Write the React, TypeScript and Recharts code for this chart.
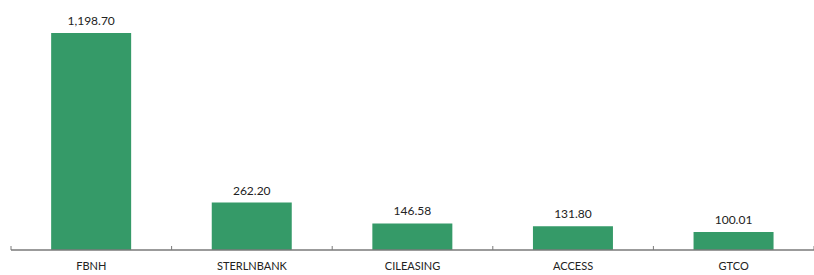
import React from 'react';
import { BarChart, Bar, XAxis, YAxis, LabelList } from 'recharts';

const tickers = ['FBNH', 'STERLNBANK', 'CILEASING', 'ACCESS', 'GTCO'];
const prices = [1198.7, 262.2, 146.58, 131.8, 100.01];

const data = tickers.map((name, i) => ({ name, value: prices[i] }));

const AXIS = '#7a7a7a';
const LABEL_GAP = 12;

const fmt = (v: any) =>
    Number(v).toLocaleString('en-US', { minimumFractionDigits: 2, maximumFractionDigits: 2 });

// category label + small upward tick mark at the left edge of each band (and the right edge of the last)
const CategoryTick = (props: any) => {
    const { x, y, payload, index, width, visibleTicksCount } = props;
    const half = payload?.offset || width / visibleTicksCount / 2;
    const axisY = y - LABEL_GAP;
    const last = index === visibleTicksCount - 1;
    return (
        <g>
            <line x1={x - half} x2={x - half} y1={axisY - 4} y2={axisY} stroke={AXIS} />
            {last && <line x1={x + half} x2={x + half} y1={axisY - 4} y2={axisY} stroke={AXIS} />}
            <text x={x} y={y} dy="0.71em" textAnchor="middle" fontSize={11} fill="#222">
                {payload.value}
            </text>
        </g>
    );
};

const App: React.FC = () => {
    return (
        <div style={{ width: 814, height: 275, fontFamily: 'Lato, sans-serif' }}>
            <style>{`body{margin:0}`}</style>
            <BarChart width={814} height={275} data={data} margin={{ top: 11, right: 0, bottom: 0, left: 11 }} barCategoryGap="25%">
                <XAxis
                    dataKey="name"
                    height={25}
                    axisLine={{ stroke: AXIS, strokeWidth: 1.5 }}
                    tickLine={false}
                    tickSize={0}
                    tickMargin={LABEL_GAP}
                    tick={<CategoryTick />}
                    interval={0}
                />
                <YAxis hide domain={[0, 1320]} />
                <Bar dataKey="value" fill="#359a68" isAnimationActive={false}>
                    <LabelList dataKey="value" position="top" offset={8} formatter={fmt} style={{ fontSize: 12, fill: '#222' }} />
                </Bar>
            </BarChart>
        </div>
    );
};

export default App;
